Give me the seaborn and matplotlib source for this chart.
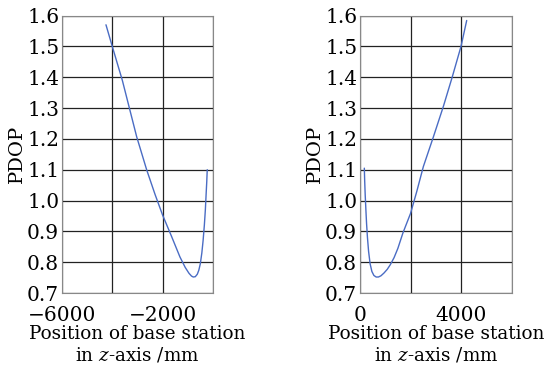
import matplotlib
matplotlib.use("Agg")
import matplotlib.pyplot as plt
import seaborn as sns
import pandas as pd

# curva sinistra: base station in z negativo
z_left = [-4250, -4000, -3600, -3030, -2630, -2300, -2000, -1650, -1310, -1100,
          -950, -850, -780, -700, -620, -560, -500, -440, -390, -340, -300, -270, -245, -225]
pdop_left = [1.57, 1.50, 1.39, 1.207, 1.099, 1.02, 0.953, 0.885, 0.817, 0.783,
             0.764, 0.755, 0.752, 0.753, 0.761, 0.774, 0.795, 0.83, 0.87, 0.92, 0.97, 1.02, 1.06, 1.1]

# curva destra: base station in z positivo
z_right = [171, 185, 205, 230, 260, 295, 340, 400, 470, 550, 640, 730, 830, 950,
           1080, 1200, 1350, 1500, 1700, 2000, 2250, 2508, 2900, 3300, 3650, 4000, 4225]
pdop_right = [1.105, 1.065, 1.02, 0.975, 0.925, 0.88, 0.835, 0.795, 0.77, 0.757,
              0.752, 0.752, 0.756, 0.765, 0.777, 0.792, 0.815, 0.845, 0.895, 0.958, 1.03,
              1.11, 1.205, 1.305, 1.40, 1.50, 1.584]

yticks = [0.7, 0.8, 0.9, 1.0, 1.1, 1.2, 1.3, 1.4, 1.5, 1.6]

sns.set_style("white")
plt.rcParams["font.family"] = ["DejaVu Serif"]
plt.rcParams["mathtext.fontset"] = "dejavuserif"

df_left = pd.DataFrame({"z": z_left, "PDOP": pdop_left})
df_right = pd.DataFrame({"z": z_right, "PDOP": pdop_right})

fig = plt.figure(figsize=(5.53, 3.70), dpi=100)
ax1 = fig.add_axes([0.112, 0.208, 0.273, 0.75])
ax2 = fig.add_axes([0.651, 0.208, 0.274, 0.75])

pannelli = [
    (ax1, df_left, (-6000, 0), [-6000, -4000, -2000, 0], ["\u22126000", "", "\u22122000", ""]),
    (ax2, df_right, (0, 6000), [0, 2000, 4000, 6000], ["0", "", "4000", ""]),
]

for ax, df, xlim, xt, xtl in pannelli:
    sns.lineplot(data=df, x="z", y="PDOP", ax=ax, color="#4a6cc4", linewidth=1.0, sort=False)
    ax.set_xlim(*xlim)
    ax.set_ylim(0.7, 1.6)
    ax.set_xticks(xt)
    ax.set_xticklabels(xtl)
    ax.set_yticks(yticks)
    ax.set_yticklabels([f"{v:.1f}" for v in yticks])
    ax.grid(True, color="#222222", linewidth=0.9)
    for s in ax.spines.values():
        s.set_color("#888888")
        s.set_linewidth(0.8)
    ax.tick_params(axis="y", length=0, labelsize=14.5, pad=2, labelcolor="black")
    ax.tick_params(axis="x", length=0, labelsize=14.5, pad=9, labelcolor="black")
    ax.set_ylabel("PDOP", fontsize=14, labelpad=1, color="black")
    ax.set_xlabel("Position of base station\nin $z$-axis /mm", fontsize=13.2, labelpad=0,
                  linespacing=1.2, color="black")

fig.savefig("out.png", dpi=100)
